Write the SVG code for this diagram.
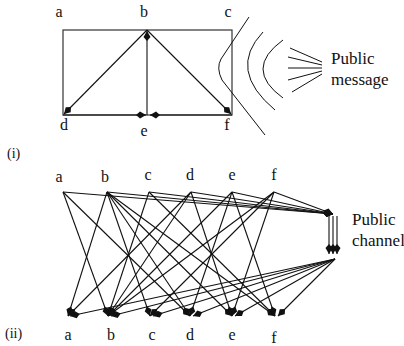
<svg xmlns="http://www.w3.org/2000/svg" width="404" height="346" viewBox="0 0 404 346" font-family="'Liberation Serif', 'Times New Roman', serif">
<style>
text{font-family:'Liberation Serif','Times New Roman',serif;fill:#111}
.lbl{font-size:16px;text-anchor:middle}
.big{font-size:17px}
.e{stroke:#111;stroke-width:1.1;fill:none;marker-end:url(#ah)}
.p{stroke:#111;stroke-width:1;fill:none}
</style>
<defs>
<marker id="ah" markerUnits="userSpaceOnUse" viewBox="-12 -6 14 12" refX="0" refY="0" markerWidth="14" markerHeight="12" orient="auto">
<path d="M0,0 L-6,-3.5 L-10,0 L-6,3.5 Z" fill="#111"/>
</marker>
</defs>
<!-- Part (i) -->
<g id="part-i">
<rect id="rect" x="63" y="30" width="169" height="85" fill="none" stroke="#333" stroke-width="1.2"/>
<g id="node-a1"><text class="lbl" x="59" y="17">a</text></g>
<g id="node-b1"><text class="lbl" x="144" y="17">b</text></g>
<g id="node-c1"><text class="lbl" x="228" y="17">c</text></g>
<g id="node-d1"><text class="lbl" x="64" y="130">d</text></g>
<g id="node-e1"><text class="lbl" x="144" y="136">e</text></g>
<g id="node-f1"><text class="lbl" x="227" y="130">f</text></g>
<g id="connectors-i">
<line class="e" x1="147" y1="30" x2="64" y2="114"/>
<line class="e" x1="147" y1="30" x2="231" y2="114"/>
<line class="e" x1="147" y1="115" x2="147" y2="31"/>
<line class="e" x1="63" y1="115" x2="146" y2="115"/>
<line class="e" x1="232" y1="115" x2="150" y2="115"/>
</g>
<g id="broadcast">
<path class="p" d="M249,17 L221,59 Q216,68 222,80 L265,135"/>
<path class="p" d="M263,32 Q227,70 275,110"/>
<path class="p" d="M283,40 Q243,69 283,98"/>
<line class="p" x1="290" y1="48" x2="322" y2="62"/>
<line class="p" x1="288" y1="57" x2="322" y2="65"/>
<line class="p" x1="288" y1="68" x2="322" y2="68"/>
<line class="p" x1="288" y1="80" x2="322" y2="71"/>
<line class="p" x1="292" y1="92" x2="322" y2="74"/>
</g>
<text class="big" x="331" y="64">Public</text>
<text class="big" x="331" y="85">message</text>
<text x="7" y="158" font-size="14">(i)</text>
</g>
<!-- Part (ii) -->
<g id="part-ii">
<g id="top-a"><text class="lbl" x="59" y="182">a</text></g>
<g id="top-b"><text class="lbl" x="105" y="182">b</text></g>
<g id="top-c"><text class="lbl" x="148" y="180">c</text></g>
<g id="top-d"><text class="lbl" x="190" y="180">d</text></g>
<g id="top-e"><text class="lbl" x="232" y="180">e</text></g>
<g id="top-f"><text class="lbl" x="274" y="180">f</text></g>
<g id="bot-a"><text class="lbl" x="68" y="340">a</text></g>
<g id="bot-b"><text class="lbl" x="111" y="340">b</text></g>
<g id="bot-c"><text class="lbl" x="152" y="340">c</text></g>
<g id="bot-d"><text class="lbl" x="190" y="340">d</text></g>
<g id="bot-e"><text class="lbl" x="232" y="340">e</text></g>
<g id="bot-f"><text class="lbl" x="274" y="343">f</text></g>
<g id="channel"><text class="big" x="352" y="225">Public</text><text class="big" x="352" y="246">channel</text></g>
<text x="5" y="338" font-size="14">(ii)</text>
<g id="connectors-ii">
<line class="e" x1="63" y1="192" x2="108" y2="316"/>
<line class="e" x1="63" y1="192" x2="190" y2="316"/>
<line class="e" x1="107" y1="192" x2="68" y2="316"/>
<line class="e" x1="107" y1="192" x2="150" y2="316"/>
<line class="e" x1="107" y1="192" x2="190" y2="316"/>
<line class="e" x1="107" y1="192" x2="232" y2="316"/>
<line class="e" x1="107" y1="192" x2="275" y2="316"/>
<line class="e" x1="149" y1="192" x2="108" y2="316"/>
<line class="e" x1="149" y1="192" x2="275" y2="316"/>
<line class="e" x1="191" y1="192" x2="68" y2="316"/>
<line class="e" x1="191" y1="192" x2="108" y2="316"/>
<line class="e" x1="191" y1="192" x2="232" y2="316"/>
<line class="e" x1="232" y1="192" x2="108" y2="316"/>
<line class="e" x1="232" y1="192" x2="190" y2="316"/>
<line class="e" x1="232" y1="192" x2="275" y2="316"/>
<line class="e" x1="274" y1="192" x2="108" y2="316"/>
<line class="e" x1="274" y1="192" x2="150" y2="316"/>
<line class="e" x1="274" y1="192" x2="232" y2="316"/>
<line class="e" x1="63" y1="192" x2="333" y2="214"/>
<line class="e" x1="107" y1="192" x2="333" y2="214"/>
<line class="e" x1="149" y1="192" x2="333" y2="214"/>
<line class="e" x1="191" y1="192" x2="333" y2="214"/>
<line class="e" x1="232" y1="192" x2="333" y2="214"/>
<line class="e" x1="274" y1="192" x2="333" y2="214"/>
<line class="e" x1="329" y1="216" x2="329" y2="254"/>
<line class="e" x1="333" y1="216" x2="333" y2="254"/>
<line class="e" x1="337" y1="216" x2="337" y2="254"/>
<line class="e" x1="335" y1="259" x2="70" y2="316"/>
<line class="e" x1="335" y1="259" x2="111" y2="316"/>
<line class="e" x1="335" y1="259" x2="153" y2="316"/>
<line class="e" x1="335" y1="259" x2="193" y2="316"/>
<line class="e" x1="335" y1="259" x2="235" y2="316"/>
<line class="e" x1="335" y1="259" x2="278" y2="316"/>
</g>
</g>
</svg>
